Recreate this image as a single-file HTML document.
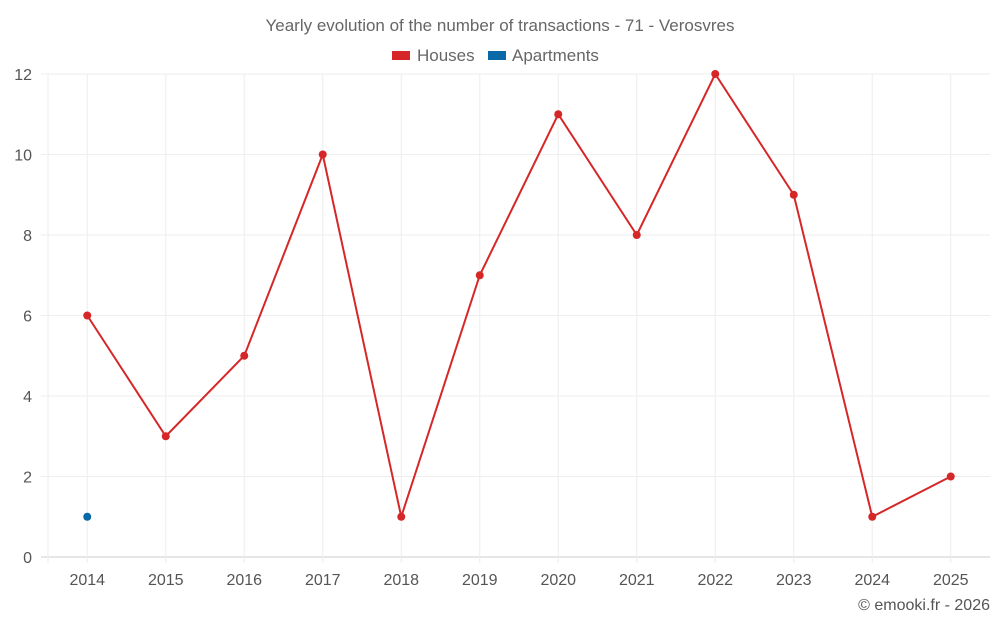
<!DOCTYPE html>
<html><head><meta charset="utf-8"><style>
body{margin:0;background:#fff;font-family:"Liberation Sans",sans-serif;}
svg text{font-family:"Liberation Sans",sans-serif;}
</style></head><body>
<svg id="c" width="1000" height="625">
<text x="500" y="31" text-anchor="middle" font-size="17" fill="#666">Yearly evolution of the number of transactions - 71 - Verosvres</text>
<g>
<g><rect x="392" y="51" width="18" height="9" fill="#d62728"/><text x="417" y="61" font-size="17" fill="#666">Houses</text></g>
<g><rect x="488" y="51" width="18" height="9" fill="#0868a8"/><text x="512" y="61" font-size="17" fill="#666">Apartments</text></g>
</g>
<g id="grid"></g><g id="axes"></g><g id="series"></g>
<text x="990" y="610" text-anchor="end" font-size="16" fill="#555">© emooki.fr - 2026</text>
</svg>
<script>
const years=[2014,2015,2016,2017,2018,2019,2020,2021,2022,2023,2024,2025];
const houses=[6,3,5,10,1,7,11,8,12,9,1,2];
const apartments=[1,null,null,null,null,null,null,null,null,null,null,null];
const yTicks=[0,2,4,6,8,10,12];
const L=48,R=990,T=74,B=557,NS="http://www.w3.org/2000/svg";
const bw=(R-L)/years.length;
const x=i=>L+bw*(i+0.5);
const y=v=>B-(v/12)*(B-T);
function mk(p,t,a){const e=document.createElementNS(NS,t);for(const k in a)e.setAttribute(k,a[k]);document.getElementById(p).appendChild(e);return e;}
yTicks.forEach(v=>{
 const g=mk('grid','line',{x1:41,x2:R,y1:y(v),y2:y(v),stroke:v===0?'#ccc':'#eee'});
 
 
 const t=mk('axes','text',{x:32,y:y(v)+6,'text-anchor':'end','font-size':16,fill:'#555'});
 t.textContent=v;
 
 
});
const eg=mk('grid','line',{x1:L,x2:L,y1:T,y2:B+6,stroke:'#eee'});


years.forEach((yr,i)=>{
 const g=mk('grid','line',{x1:x(i),x2:x(i),y1:T,y2:B+6,stroke:'#eee'});
 
 
 const t=mk('axes','text',{x:x(i),y:585,'text-anchor':'middle','font-size':16,fill:'#555'});
 t.textContent=yr;
 
 
});
const pl=mk('series','polyline',{points:houses.map((v,i)=>x(i)+','+y(v)).join(' '),fill:'none',stroke:'#d62728','stroke-width':2});


houses.forEach((v,i)=>{
 const c=mk('series','circle',{cx:x(i),cy:y(v),r:4,fill:'#d62728'});
 
 
});
apartments.forEach((v,i)=>{
 if(v==null)return;
 const c=mk('series','circle',{cx:x(i),cy:y(v),r:4,fill:'#0868a8'});
 
 
});
</script>
</body></html>
